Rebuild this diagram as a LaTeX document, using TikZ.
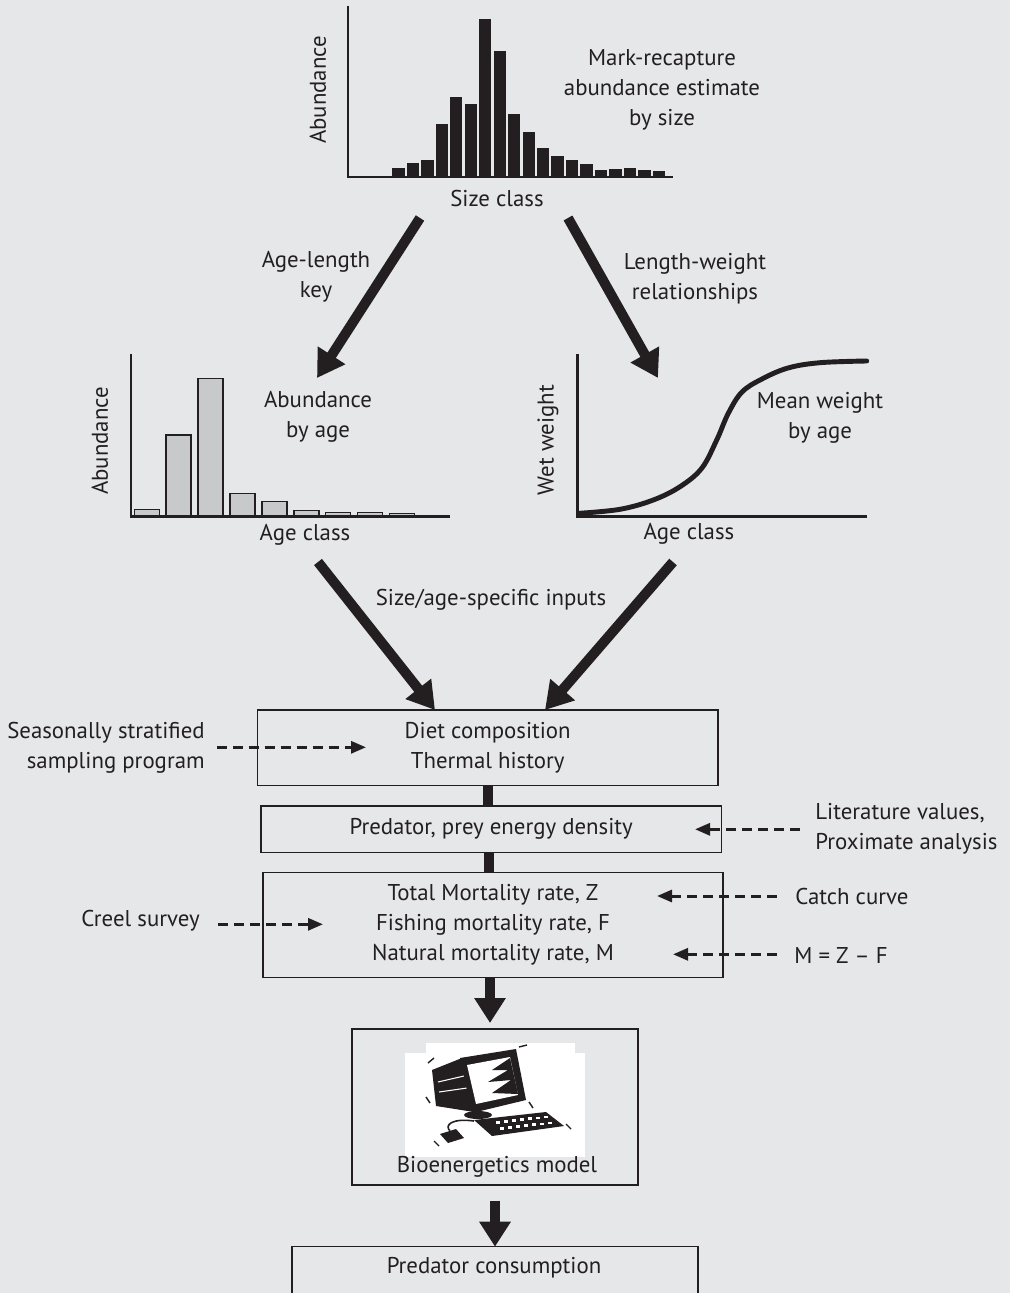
\documentclass[tikz,border=0pt]{standalone}
\usepackage{fontspec}
\setmainfont{PT Sans}
\usetikzlibrary{arrows.meta}

\definecolor{ink}{RGB}{35,31,32}
\definecolor{paper}{RGB}{230,231,232}
\definecolor{barfill}{RGB}{200,201,203}

\tikzset{
  lbl/.style={text=ink, font=\fontsize{13}{17}\selectfont, inner sep=0pt, align=center},
  stagebox/.style={lbl, draw=ink, line width=0.85pt, minimum width=#1},
  axis/.style={draw=ink, line width=1.4pt},
  fatarrow/.style={draw=ink, line width=5.7pt, -{Triangle[length=0.54cm,width=0.62cm]}},
  fatbar/.style={draw=ink, line width=6pt},
  feed/.style={draw=ink, line width=1.7pt, dash pattern=on 0.2cm off 0.12cm,
    -{Triangle[length=0.3cm,width=0.24cm]}}
}

\begin{document}
\begin{tikzpicture}[x=0.02cm, y=-0.02cm]
  \fill[paper] (0,0) rectangle (1010,1293);
  \useasboundingbox (0,0) rectangle (1010,1293);

  % abundance by size class
  \foreach \t [count=\i from 0] in {168,163,160,124,97,104,19,51,114,132,148,156,160,164,170,169,168,170,171}
    \fill[ink] ({392.3+14.47*\i},176.5) rectangle ({404.6+14.47*\i},\t);
  \draw[axis] (348,6) -- (348,177) -- (673,177);
  \node[lbl, rotate=90] (abund1) at (318,90) {Abundance};
  \node[lbl] (sizeclass) at (497,199) {Size class};
  \node[lbl] (markrecap) at (662,90) {Mark-recapture\\abundance estimate\\by size};

  % abundance by age class
  \foreach \t [count=\i from 0] in {509.7,435,378.7,493.7,501.7,510.3,512.7,512.7,513.7}
    \filldraw[fill=barfill, draw=ink, line width=0.85pt] ({134.3+31.9*\i},516.7) rectangle ({159.3+31.9*\i},\t);
  \draw[axis] (131,354) -- (131,516.7) -- (450,516.7);
  \node[lbl, rotate=90] (abund2) at (100,441) {Abundance};
  \node[lbl] (ageclass1) at (305,535) {Age class};
  \node[lbl] (byage) at (318,417) {Abundance\\by age};

  % mean weight by age
  \draw[axis] (577.3,354) -- (577.3,516.7) -- (866.7,516.7);
  \draw[ink, line width=2.8pt, line cap=round] plot[smooth, tension=0.6] coordinates {(579.3,513.3) (620,509.3) (653.3,500) (680,486.7) (701.7,468.3) (716.7,440) (728.3,413.3) (742,392) (762,379) (788,368) (820,362.7) (866.7,361)};
  \node[lbl, rotate=90] (wetw) at (548,440) {Wet weight};
  \node[lbl] (ageclass2) at (689,534) {Age class};
  \node[lbl] (meanw) at (820,418) {Mean weight\\by age};

  % arrows between the plots
  \coordinate (topL) at (420,218);
  \coordinate (topR) at (568,218);
  \coordinate (midL) at (317,378);
  \coordinate (midR) at (658,378);
  \draw[fatarrow] (topL) -- (midL);
  \draw[fatarrow] (topR) -- (midR);
  \node[lbl] (alkey) at (316,277) {Age-length\\key};
  \node[lbl] (lwrel) at (695,279) {Length-weight\\relationships};

  % stages of the model
  \node[stagebox=9.21cm, minimum height=1.51cm] (diet) at (487.7,747.8) {Diet composition\\Thermal history};
  \node[stagebox=9.21cm, minimum height=0.93cm] (energy) at (491.2,829) {Predator, prey energy density};
  \node[stagebox=9.21cm, minimum height=2.1cm] (mort) at (493,924.8) {Total Mortality rate, Z\\Fishing mortality rate, F\\Natural mortality rate, M};
  \node[stagebox=5.73cm, minimum height=3.12cm] (model) at (495,1107) {};
  \node[stagebox=8.13cm, minimum height=1.0cm] (consume) at (495,1271.5) {};
  \node[lbl] at (494,1268) {Predator consumption};

  \coordinate (lowL) at (318,562);
  \coordinate (lowR) at (673,562);
  \draw[fatarrow] (lowL) -- (435,710);
  \draw[fatarrow] (lowR) -- (545,710);
  \node[lbl] (inputs) at (491,600) {Size/age-specific inputs};

  \draw[fatbar] (488,786) -- (488,805.7);
  \draw[fatbar] (489,852.3) -- (489,872.3);
  \draw[fatarrow, line width=6.2pt, -{Triangle[length=0.5cm,width=0.6cm]}] (490,977.3) -- (490,1023);
  \draw[fatarrow, line width=6.2pt, -{Triangle[length=0.5cm,width=0.6cm]}] (model.south) ++(0,15) -- (495,1246.7);

  % computer picture
  \fill[white] (405,1053) rectangle (585,1157);
  \fill[white] (426,1043) rectangle (575,1053);
  \fill[ink] (432,1070) -- (462,1058) -- (474,1112) -- (436,1106) -- cycle;
  \draw[white, line width=0.6pt] (438,1082) -- (464,1076) (439,1092) -- (467,1088);
  \fill[ink] (460,1058) -- (516,1049) -- (526,1100) -- (472,1113) -- cycle;
  \fill[white] (467,1065) -- (510,1057) -- (518,1095) -- (476,1104) -- cycle;
  \fill[ink] (510,1058) -- (492,1070) -- (508,1070) -- (488,1082) -- (511,1080) -- (492,1093) -- (518,1094) -- cycle;
  \fill[ink] (478,1115) ellipse (14 and 4);
  \fill[ink] (474,1120) -- (546,1112) -- (564,1126) -- (492,1136) -- cycle;
  \foreach \k in {0,...,6} {
    \fill[white] ({496+8*\k},{1121-0.9*\k}) rectangle ++(4,2.5);
    \fill[white] ({500+8*\k},{1127-0.9*\k}) rectangle ++(4,2.5);
  }
  \draw[ink, line width=0.9pt] (474,1121) .. controls (452,1118) and (444,1125) .. (450,1131);
  \fill[ink] (440,1134) -- (456,1129) -- (464,1138) -- (448,1143) -- cycle;
  \draw[ink, line width=0.8pt] (428,1063) -- (434,1058) (426,1097) -- (430,1103)
    (519,1047) -- (527,1045) (529,1102) -- (533,1108) (566,1124) -- (571,1129) (434,1141) -- (439,1146);
  \node[lbl] (bioen) at (497,1167) {Bioenergetics model};

  % data sources
  \node[lbl, anchor=east, align=right] (season) at (205,747.5) {Seasonally stratified\\sampling program};
  \node[lbl, anchor=east] (creel) at (200,921) {Creel survey};
  \node[lbl, anchor=west, align=left] (lit) at (815,829) {Literature values,\\Proximate analysis};
  \node[lbl, anchor=west] (catch) at (795,896) {Catch curve};
  \node[lbl, anchor=west] (mzf) at (794,955) {M = Z – F};

  \coordinate (seasonEnd) at (366,747.3);
  \coordinate (creelEnd) at (323,924.3);
  \coordinate (litEnd) at (695,829.3);
  \coordinate (catchEnd) at (657,896);
  \coordinate (mzfEnd) at (673,954.3);
  \draw[feed] (season.east |- seasonEnd) ++(12,0) -- (seasonEnd);
  \draw[feed] (creel.east |- creelEnd) ++(18,0) -- (creelEnd);
  \draw[feed] (lit.west |- litEnd) ++(-15,0) -- (litEnd);
  \draw[feed] (catch.west |- catchEnd) ++(-18,0) -- (catchEnd);
  \draw[feed] (mzf.west |- mzfEnd) ++(-17,0) -- (mzfEnd);
\end{tikzpicture}
\end{document}
